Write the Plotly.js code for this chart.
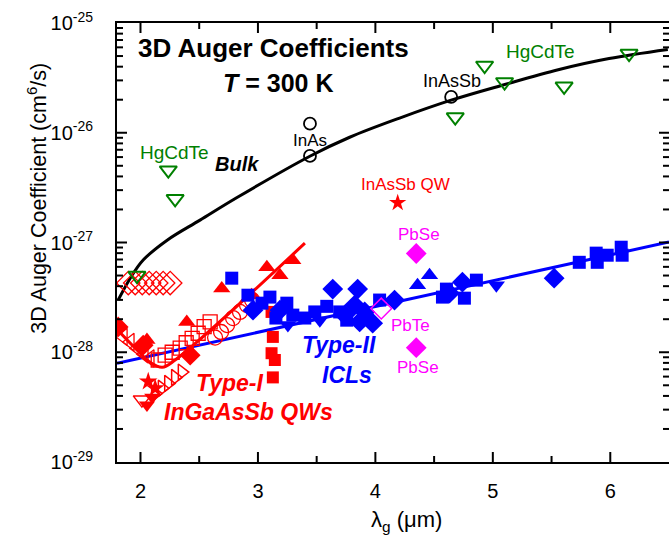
<!DOCTYPE html>
<html><head><meta charset="utf-8">
<script src="https://cdn.plot.ly/plotly-3.0.1.min.js"></script>
<style>html,body{margin:0;padding:0;background:#fff}#c{width:669px;height:546px}</style>
</head><body><div id="c"></div>
<script>
// ---- Bulk fit curve ----
var bulkX = [1.81,1.913,2.023,2.227,2.507,2.822,3.442,3.781,4.206,4.645,5.08,5.565,5.99,6.49];
var bulkY = [2.99e-28,4.73e-28,6.92e-28,1.05e-27,1.6e-27,2.57e-27,6.11e-27,9.1e-27,1.36e-26,1.98e-26,2.71e-26,3.77e-26,4.74e-26,5.73e-26];
// ---- Type-II ICL fit line ----
var iclFitX = [1.8, 6.5];
var iclFitY = [7.94e-29, 1.01e-27];
// ---- Type-I fit curve ----
var qwFitX = [1.80,1.955,2.083,2.185,2.295,3.40];
var qwFitY = [1.62e-28,1.09e-28,8.1e-29,7.3e-29,8.5e-29,9.86e-28];

// ---- HgCdTe (green open down triangles) ----
var hgX = [1.97,2.237,2.295,4.68,4.93,5.1,5.607,6.16];
var hgY = [5.0e-28,4.56e-27,2.5e-27,1.39e-26,4.1e-26,2.9e-26,2.65e-26,5.26e-26];
// ---- InAs / InAsSb bulk (black open circles) ----
var inasX = [3.443,3.443,4.645];
var inasY = [1.21e-26,6.15e-27,2.12e-26];
// ---- InAsSb QW (red star) ----
var inasbQwX = [4.19];
var inasbQwY = [2.3e-27];
// ---- Lead salts ----
var pbseX = [4.348,4.348];
var pbseY = [7.94e-28,1.1e-28];
var pbteX = [4.05];
var pbteY = [2.5e-28];

// ---- Type-II ICLs (blue) ----
var iclSqX = [2.777,2.915,3.034,3.102,3.153,3.246,3.297,3.399,3.484,3.586,3.696,3.756,4.036,4.571,4.605,4.758,4.86,5.736,5.88,5.889,5.974,6.093,6.101];
var iclSqY = [4.73e-28,3.31e-28,2.8e-28,3.18e-28,2.05e-28,2.8e-28,2.18e-28,2.05e-28,2.33e-28,2.62e-28,2.33e-28,1.96e-28,2.99e-28,3.18e-28,3.76e-28,3.11e-28,4.54e-28,6.6e-28,8.0e-28,6.6e-28,7.66e-28,9.06e-28,7.66e-28];
var iclDiX = [2.958,3.187,3.637,3.739,3.824,3.849,3.866,3.909,3.977,4.163,4.631,4.741,5.522];
var iclDiY = [2.42e-28,2.42e-28,3.76e-28,2.18e-28,2.69e-28,3.76e-28,1.89e-28,2.33e-28,1.84e-28,2.99e-28,3.45e-28,4.35e-28,4.73e-28];
var iclTuX = [4.359,4.461];
var iclTuY = [4.08e-28,5.04e-28];
var iclTdX = [3.255,3.527,5.03];
var iclTdY = [1.77e-28,1.96e-28,4.08e-28];

// ---- Type-I InGaAsSb QWs (red) ----
var qwTuX = [2.692,3.076,3.187,3.297,2.394,2.055,2.946];
var qwTuY = [3.8e-28,5.96e-28,5.04e-28,6.9e-28,1.89e-28,1.29e-28,3.31e-28];
var qwDiX = [1.81,2.023,2.423];
var qwDiY = [1.7e-28,1.16e-28,9.4e-29];
var qwSqX = [3.116,3.127,3.116,3.144,3.127];
var qwSqY = [2.33e-28,1.38e-28,9.8e-29,8.5e-29,5.9e-29];
var qwStX = [2.066,2.125];
var qwStY = [5.4e-29,4.7e-29];
var qwTdX = [2.055,2.1];
var qwTdY = [3.3e-29,3.9e-29];
var qwODiX = [1.896,1.955,2.015,2.074,2.134,2.193,2.253];
var qwODiY = [4.27e-28,4.27e-28,4.27e-28,4.27e-28,4.27e-28,4.27e-28,4.27e-28];
var qwOTdX = [2.012];
var qwOTdY = [3.7e-29];
var qwOTrX = [2.125,2.182,2.236,2.295,2.352];
var qwOTrY = [4.2e-29,4.7e-29,5.2e-29,5.9e-29,6.6e-29];
var qwOTlX = [1.854,1.913,1.972,2.032,2.083];
var qwOTlY = [1.38e-28,1.24e-28,1.09e-28,9.6e-29,8.8e-29];
var qwOSqX = [2.151,2.21,2.27,2.338,2.389,2.44,2.491,2.542,2.593];
var qwOSqY = [8.5e-29,9.4e-29,1.0e-28,1.09e-28,1.22e-28,1.34e-28,1.49e-28,1.71e-28,1.89e-28];
var qwOCiX = [2.635,2.686,2.737,2.788,2.847,2.907,2.95];
var qwOCiY = [1.36e-28,1.53e-28,1.77e-28,2.05e-28,2.33e-28,2.69e-28,2.99e-28];

// ---- Axis ticks / labels ----
var Y_RANGE = [-29, -25];
var X_RANGE = [1.8, 6.5];
var yMajorVals = [1e-29, 1e-28, 1e-27, 1e-26, 1e-25];
var yMajorText = ['10<sup>-29</sup>', '10<sup>-28</sup>', '10<sup>-27</sup>', '10<sup>-26</sup>', '10<sup>-25</sup>'];
var xTickVals = [2, 3, 4, 5, 6];
var xTickText = ['2', '3', '4', '5', '6'];
var xMinorVals = [2.5, 3.5, 4.5, 5.5];
var yMinorVals = [];
[-29, -28, -27, -26].forEach(function (d) {
  for (var m = 2; m <= 9; m++) yMinorVals.push(m * Math.pow(10, d));
});

var RED = '#ff0000', BLUE = '#0000ff', GREEN = '#008000', MAG = '#ff00ff';
var FONT = 'Liberation Sans, Arial, sans-serif';
function pts(x, y, sym, col, size, lw) {
  return {x: x, y: y, type: 'scatter', mode: 'markers', hoverinfo: 'skip',
    marker: {symbol: sym, color: col, size: size, line: {color: col, width: lw || 0}}};
}
function ln(x, y, col, shape) {
  return {x: x, y: y, type: 'scatter', mode: 'lines', hoverinfo: 'skip',
    line: {color: col, width: 3, shape: shape || 'linear', smoothing: 1}};
}
var data = [
  ln(bulkX, bulkY, '#000', 'spline'),
  ln(iclFitX, iclFitY, BLUE),
  pts(qwODiX, qwODiY, 'diamond-open', RED, 18, 1.3),
  pts(qwOTlX, qwOTlY, 'triangle-left-open', RED, 15, 1.3),
  pts(qwOSqX, qwOSqY, 'square-open', RED, 14, 1.3),
  pts(qwOCiX, qwOCiY, 'circle-open', RED, 15, 1.3),
  pts(qwOTdX, qwOTdY, 'triangle-down-open', RED, 15, 1.5),
  pts(qwOTrX, qwOTrY, 'triangle-right-open', RED, 14, 1.5),
  pts(qwTuX, qwTuY, 'triangle-up', RED, 15),
  pts(qwDiX, qwDiY, 'diamond', RED, 16),
  pts(qwSqX, qwSqY, 'square', RED, 12),
  pts(qwStX, qwStY, 'star', RED, 14),
  pts(qwTdX, qwTdY, 'triangle-down', RED, 14),
  ln(qwFitX, qwFitY, RED, 'spline'),
  pts(iclSqX, iclSqY, 'square', BLUE, 13),
  pts(iclDiX, iclDiY, 'diamond', BLUE, 16),
  pts(iclTuX, iclTuY, 'triangle-up', BLUE, 15),
  pts(iclTdX, iclTdY, 'triangle-down', BLUE, 15),
  pts(hgX, hgY, 'triangle-down-open', GREEN, 15, 2),
  pts(inasX, inasY, 'circle-open', '#000', 12, 1.8),
  pts(inasbQwX, inasbQwY, 'star', RED, 13),
  pts(pbseX, pbseY, 'diamond', MAG, 16),
  pts(pbteX, pbteY, 'diamond-open', MAG, 16, 1.5)
];

function ann(text, xp, yp, col, size, angle) {
  return {text: text, x: xp, y: yp, xref: 'paper', yref: 'paper', showarrow: false,
    xanchor: 'center', yanchor: 'middle', textangle: angle || 0,
    font: {color: col, size: size, family: FONT}};
}
var annotations = [
  ann('<b>3D Auger Coefficients</b>', 0.284, 0.943, '#000', 26),
  ann('<b><i>T</i> = 300 K</b>', 0.292, 0.863, '#000', 25),
  ann('HgCdTe', 0.105, 0.706, GREEN, 19),
  ann('HgCdTe', 0.768, 0.934, GREEN, 19),
  ann('InAs', 0.35, 0.733, '#000', 17),
  ann('InAsSb', 0.607, 0.868, '#000', 18),
  ann('<b><i>Bulk</i></b>', 0.217, 0.679, '#000', 20),
  ann('InAsSb QW', 0.522, 0.633, RED, 17),
  ann('PbSe', 0.547, 0.519, MAG, 17),
  ann('PbTe', 0.531, 0.312, MAG, 17),
  ann('PbSe', 0.545, 0.216, MAG, 17),
  ann('<b><i>Type-II</i></b>', 0.402, 0.267, BLUE, 23),
  ann('<b><i>ICLs</i></b>', 0.417, 0.198, BLUE, 23),
  ann('<b><i>Type-I</i></b>', 0.203, 0.18, RED, 23),
  ann('<b><i>InGaAsSb QWs</i></b>', 0.239, 0.114, RED, 23),
  ann('3D Auger Coefficient (cm<sup>6</sup>/s)', -0.144, 0.601, '#000', 21.5, -90),
  ann('λ<sub>g</sub> (μm)', 0.525, -0.134, '#000', 22)
];

// ---- inward tick marks on all four sides (drawn as thin line shapes) ----
var PLOT_W = 552, PLOT_H = 439;
var shapes = [];
function yTick(v, lenPx) {
  var yp = (Math.log10(v) - Y_RANGE[0]) / (Y_RANGE[1] - Y_RANGE[0]);
  var w = lenPx / PLOT_W;
  [[0, w], [1 - w, 1]].forEach(function (s) {
    shapes.push({type: 'line', xref: 'paper', yref: 'paper', x0: s[0], x1: s[1], y0: yp, y1: yp,
      line: {color: '#000', width: 2}, layer: 'above'});
  });
}
function xTick(v, lenPx) {
  var h = lenPx / PLOT_H;
  [[0, h], [1 - h, 1]].forEach(function (s) {
    shapes.push({type: 'line', xref: 'x', yref: 'paper', x0: v, x1: v, y0: s[0], y1: s[1],
      line: {color: '#000', width: 2}, layer: 'above'});
  });
}
yMajorVals.slice(1, 4).forEach(function (v) { yTick(v, 10); });
yMinorVals.forEach(function (v) { yTick(v, 6); });
xTickVals.forEach(function (v) { xTick(v, 10); });
xMinorVals.forEach(function (v) { xTick(v, 6); });

var layout = {
  width: 669, height: 546,
  margin: {l: 117, r: 0, t: 23, b: 84},
  paper_bgcolor: '#fff', plot_bgcolor: '#fff',
  showlegend: false, hovermode: false,
  font: {family: FONT, color: '#000', size: 20},
  xaxis: {
    range: X_RANGE, tickmode: 'array', tickvals: xTickVals, ticktext: xTickText, ticks: '',
    showline: true, linewidth: 2, linecolor: '#000', mirror: true,
    showgrid: false, zeroline: false, tickfont: {size: 20}, ticklabelstandoff: 10
  },
  yaxis: {
    type: 'log', range: Y_RANGE, tickmode: 'array', tickvals: yMajorVals, ticktext: yMajorText, ticks: '',
    showline: true, linewidth: 2, linecolor: '#000', mirror: true,
    showgrid: false, zeroline: false, tickfont: {size: 20}, ticklabelstandoff: 18
  },
  shapes: shapes,
  annotations: annotations
};
Plotly.newPlot('c', data, layout, {staticPlot: true, displayModeBar: false});
</script></body></html>
